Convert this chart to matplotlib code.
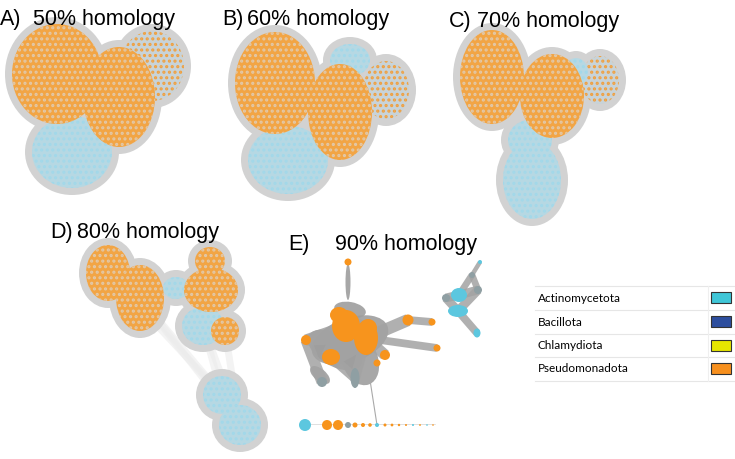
#coding:utf8

import numpy as np
import matplotlib.pyplot as plt
from matplotlib.patches import Ellipse, Rectangle

plt.rcParams['font.family'] = ['Liberation Sans', 'DejaVu Sans']
plt.rcParams['hatch.linewidth'] = 1.5

#Couleurs des phylums (legende)
phylums = ["Actinomycetota", "Bacillota", "Chlamydiota", "Pseudomonadota"]
couleurs_phylums = ["#3FC6D7", "#2D4E9E", "#E6E600", "#F7901E"]

#Titres des panneaux
lettres = ["A)", "B)", "C)", "D)", "E)"]
homologies = ["50% homology", "60% homology", "70% homology", "80% homology", "90% homology"]
lettre_xy = [(0, 25), (222, 25), (449, 27), (50, 238), (288, 250)]
texte_xy = [(33, 25), (247, 25), (477, 27), (77, 238), (335, 250)]

#Amas des reseaux : (x, y, rx, ry, type)  O = orange, B = bleu, M = mixte
amas_A = [(152, 66, 32, 35, "M"), (72, 152, 40, 36, "B"), (57, 74, 45, 50, "O"),
          (119, 97, 36, 50, "O")]
amas_B = [(386, 90, 23, 29, "M"), (350, 60, 20, 16, "B"), (288, 160, 40, 34, "B"),
          (275, 83, 40, 51, "O"), (340, 112, 32, 48, "O")]
amas_C = [(600, 80, 19, 24, "M"), (576, 72, 12, 14, "B"), (530, 140, 22, 20, "B"),
          (532, 180, 29, 39, "B"), (492, 77, 32, 47, "O"), (552, 96, 32, 42, "O")]
amas_D = [(176, 288, 13, 11, "B"), (203, 326, 21, 19, "B"), (222, 395, 19, 19, "B"),
          (240, 425, 21, 20, "B"), (108, 273, 22, 28, "O"), (140, 298, 24, 33, "O"),
          (210, 261, 15, 14, "O"), (211, 290, 27, 22, "O"), (225, 331, 14, 14, "O")]
liens_D = [(5, 2), (4, 2), (1, 2), (8, 3), (5, 3), (1, 3)]

#Panneau E : zones grises (x, y, rx, ry, angle)
eventails_E = [(350, 340, 40, 22, -20), (335, 350, 30, 16, 30), (360, 360, 26, 18, 70),
               (348, 282, 2.5, 18, 0), (320, 375, 12, 6, 40), (350, 310, 16, 8, 10)]
#Panneau E : amas compacts (x, y, rx, ry, type)
amas_E = [(348, 262, 3.5, 3.5, "O"), (346, 326, 14, 16, "O"), (339, 315, 9, 8, "O"),
          (366, 338, 12, 17, "O"), (368, 328, 9, 9, "O"), (331, 357, 9, 8, "O"),
          (306, 340, 5, 5, "O"), (385, 355, 5, 5, "O"), (377, 363, 3.5, 3.5, "O"),
          (355, 378, 4.5, 10, "G"), (322, 382, 5, 5, "G"), (408, 320, 5.5, 5.5, "O"),
          (432, 322, 3.5, 3.5, "O"), (437, 348, 3.5, 3.5, "O"), (459, 295, 8, 7, "B"),
          (458, 311, 10, 6, "B"), (477, 333, 3.5, 4.5, "B"), (480, 262, 2, 2, "B"),
          (446, 298, 4, 4, "G"), (478, 290, 4, 4, "G"), (472, 275, 3, 3, "G")]
liens_E = [(1, 3), (1, 5), (3, 5), (3, 6), (1, 6), (3, 7), (5, 9), (3, 9), (6, 10),
           (3, 11), (11, 12), (3, 13), (14, 18), (15, 18), (14, 19), (15, 19), (14, 20),
           (16, 15), (17, 20), (19, 20)]

#Rangee du bas du panneau E : (x, r, type)
rangee_E = [(305, 6, "B"), (327, 5, "O"), (338, 5, "O"), (348, 3, "G"), (355, 2.5, "O"),
            (363, 2, "O"), (370, 1.8, "O"), (377, 2, "B"), (385, 1.5, "O"), (392, 1.4, "O"),
            (399, 1.2, "O"), (406, 1, "O"), (413, 1, "B"), (420, 0.9, "O"), (427, 0.8, "B"),
            (433, 0.8, "O")]
y_rangee_E = 425


fig = plt.figure(figsize=(7.35, 4.59), dpi=100)
ax = fig.add_axes([0, 0, 1, 1])
ax.set_xlim(0, 735)
ax.set_ylim(459, 0)
ax.axis("off")

gris = "#D2D2D2"
face = {"O": "#F2A545", "B": "#B6D8E3", "M": "#C8D3D8"}
point = {"O": "#E2C8A8", "B": "#A2D8EA", "M": "#F0A040"}
hachure = {"O": "...", "B": "...", "M": "..."}

#Fonction pour dessiner les amas d'un panneau
def dessinerAmas(liste):
    for (x, y, rx, ry, t) in liste:
        ax.add_patch(Ellipse((x, y), 2 * rx + 14, 2 * ry + 14, facecolor=gris, edgecolor="none", zorder=1))
    for (x, y, rx, ry, t) in liste:
        ax.add_patch(Ellipse((x, y), 2 * rx, 2 * ry, facecolor=face[t], edgecolor=point[t],
                             hatch=hachure[t], linewidth=0, zorder=2))

#liens gris du panneau D
for (i, j) in liens_D:
    ax.plot([amas_D[i][0], amas_D[j][0]], [amas_D[i][1], amas_D[j][1]],
            color="#EBEBEB", linewidth=5, alpha=0.6, zorder=0, solid_capstyle="round")

for liste in [amas_A, amas_B, amas_C, amas_D]:
    dessinerAmas(liste)

#Panneau E
couleur_E = {"O": "#F7941D", "B": "#5CC7DF", "G": "#8F9FA3"}
for (x, y, rx, ry, a) in eventails_E:
    ax.add_patch(Ellipse((x, y), 2 * rx, 2 * ry, angle=a, facecolor="#9E9E9E",
                         edgecolor="none", alpha=0.9, zorder=1))
for (i, j) in liens_E:
    ax.plot([amas_E[i][0], amas_E[j][0]], [amas_E[i][1], amas_E[j][1]],
            color="#A3A3A3", linewidth=1.6 * min(amas_E[i][2], amas_E[j][2]), alpha=0.85,
            zorder=1, solid_capstyle="butt")
ax.plot([370, 377], [380, y_rangee_E], color="#A9A9A9", linewidth=0.8, zorder=1)
ax.plot([300, 435], [y_rangee_E - 1, y_rangee_E - 1], color="#C8C8C8", linewidth=0.4, zorder=1)
for (x, y, rx, ry, t) in amas_E:
    ax.add_patch(Ellipse((x, y), 2 * rx, 2 * ry, facecolor=couleur_E[t], edgecolor="none", zorder=2))
for (x, r, t) in rangee_E:
    ax.add_patch(Ellipse((x, y_rangee_E), 2 * r, 2 * r, facecolor=couleur_E[t], edgecolor="none", zorder=2))

#Titres
for k in range(len(lettres)):
    ax.text(lettre_xy[k][0], lettre_xy[k][1], lettres[k], fontsize=15.5, ha="left", va="baseline")
    ax.text(texte_xy[k][0], texte_xy[k][1], homologies[k], fontsize=15.5, ha="left", va="baseline")

#Legende
y_lignes = [286, 310, 334, 357, 381]
for y in y_lignes:
    ax.plot([535, 735], [y, y], color="#E6E6E6", linewidth=0.8)
ax.plot([708, 708], [286, 381], color="#EFEFEF", linewidth=0.8)
for k in range(len(phylums)):
    yc = (y_lignes[k] + y_lignes[k + 1]) / 2
    ax.text(538, yc, phylums[k], fontsize=8.5, ha="left", va="center", family=["Lato", "DejaVu Sans"])
    ax.add_patch(Rectangle((711, yc - 6), 20, 11, facecolor=couleurs_phylums[k],
                           edgecolor="#333333", linewidth=0.8))

plt.savefig("out.png", dpi=100)
plt.close()
